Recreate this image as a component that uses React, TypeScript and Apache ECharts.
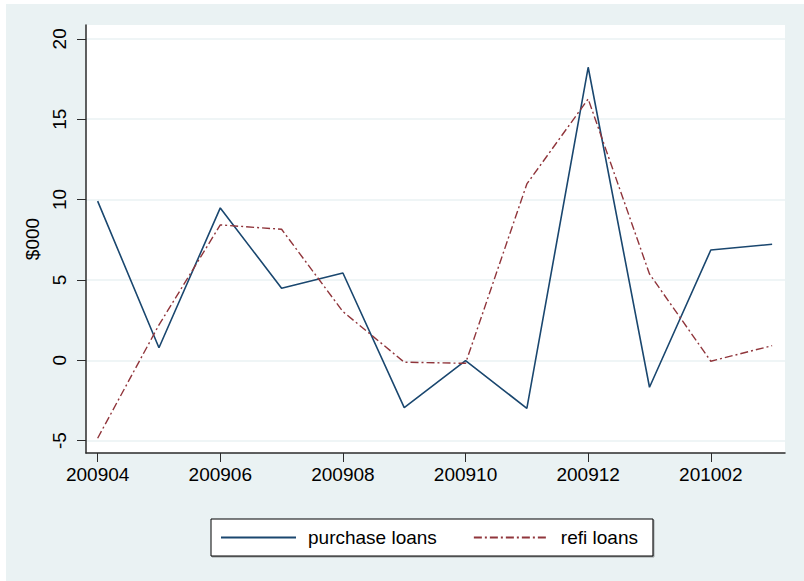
import React, { useEffect, useRef } from 'react';
import * as echarts from 'echarts';

const months = ['200904', '200905', '200906', '200907', '200908', '200909', '200910', '200911', '200912', '201001', '201002', '201003'];
const purchaseLoans = [9.9, 0.78, 9.48, 4.48, 5.43, -2.95, -0.02, -2.99, 18.23, -1.68, 6.86, 7.22];
const refiLoans = [-4.85, 2.2, 8.42, 8.15, 3.03, -0.12, -0.19, 10.97, 16.26, 5.37, -0.06, 0.91];
const xTickIndices = [0, 2, 4, 6, 8, 10];
const yTicks = [-5, 0, 5, 10, 15, 20];

const FONT = '"Liberation Sans", Arial, Helvetica, sans-serif';
const NAVY = '#1A476F';
const MAROON = '#90353B';
const BG = '#EAF2F3';
const AXIS = '#2b2b2b';
const FS = 19;

export default function App() {
  const ref = useRef<HTMLDivElement>(null);
  useEffect(() => {
    if (!ref.current) return;
    const chart = echarts.init(ref.current, undefined, { renderer: 'svg' });
    const toPairs = (arr: number[]) => arr.map((v, i) => [i, v]);
    chart.setOption({
      animation: false,
      backgroundColor: BG,
      textStyle: { fontFamily: FONT },
      grid: {
        left: 80,
        top: 21,
        right: 19,
        bottom: 128,
        show: true,
        backgroundColor: '#ffffff',
        borderWidth: 0,
      },
      xAxis: {
        type: 'value',
        min: -0.19,
        max: 11.21,
        axisLine: { show: true, onZero: false, lineStyle: { color: AXIS, width: 1.5 } },
        axisTick: { show: true, length: 9, customValues: xTickIndices, lineStyle: { color: AXIS, width: 1 } },
        axisLabel: {
          customValues: xTickIndices,
          formatter: (v: number) => months[Math.round(v)] ?? '',
          color: '#000',
          fontSize: FS,
          fontFamily: FONT,
          margin: 12,
        },
        splitLine: { show: false },
      },
      yAxis: {
        type: 'value',
        min: -5.77,
        max: 20.86,
        name: '$000',
        nameLocation: 'middle',
        nameRotate: 90,
        nameGap: 34,
        nameTextStyle: { color: '#000', fontSize: FS, fontFamily: FONT },
        axisLine: { show: true, onZero: false, lineStyle: { color: AXIS, width: 1.5 } },
        axisTick: { show: true, length: 9, customValues: yTicks, lineStyle: { color: AXIS, width: 1 } },
        axisLabel: {
          customValues: yTicks,
          rotate: 90,
          color: '#000',
          fontSize: FS,
          fontFamily: FONT,
          margin: 17,
        },
        splitLine: { show: true, lineStyle: { color: BG, width: 1.5 } },
      },
      legend: {
        left: 205,
        top: 515,
        orient: 'horizontal',
        backgroundColor: '#ffffff',
        borderColor: '#000',
        borderWidth: 1,
        borderRadius: 0,
        shadowColor: 'rgba(0,0,0,0.35)',
        shadowOffsetX: 1,
        shadowOffsetY: 1,
        shadowBlur: 0,
        padding: [9, 15, 9, 9],
        itemWidth: 75,
        itemHeight: 14,
        itemGap: 36,
        itemStyle: { color: 'rgba(0,0,0,0)', borderColor: 'rgba(0,0,0,0)', borderWidth: 0 },
        textStyle: { color: '#000', fontSize: FS, fontFamily: FONT, padding: [0, 0, 0, 7] },
        data: ['purchase loans', 'refi loans'],
      },
      series: [
        {
          name: 'purchase loans',
          type: 'line',
          data: toPairs(purchaseLoans),
          symbol: 'none',
          showSymbol: false,
          lineStyle: { color: NAVY, width: 1.6 },
          itemStyle: { color: NAVY },
        },
        {
          name: 'refi loans',
          type: 'line',
          data: toPairs(refiLoans),
          symbol: 'none',
          showSymbol: false,
          lineStyle: { color: MAROON, width: 1.4, type: [8, 3, 2, 3] },
          itemStyle: { color: MAROON },
        },
      ],
    });
    return () => chart.dispose();
  }, []);
  return (
    <div
      ref={ref}
      style={{ position: 'absolute', left: 6, top: 4, width: 798, height: 577 }}
    />
  );
}
